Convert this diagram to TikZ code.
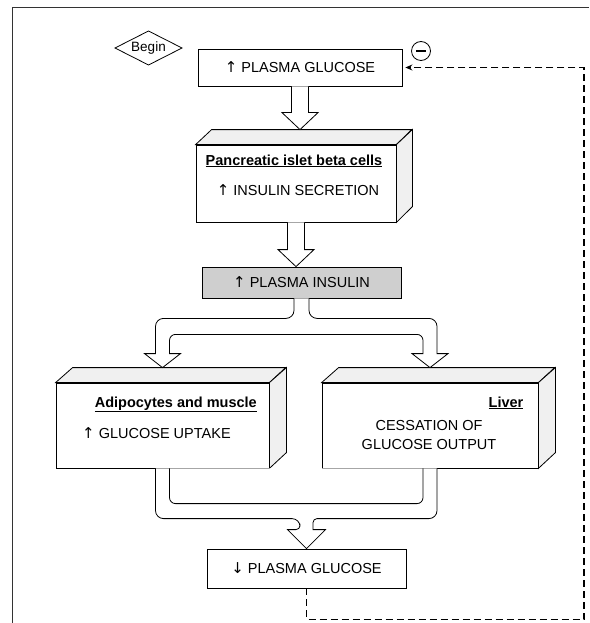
\documentclass[tikz,border=0pt]{standalone}
\usepackage{fontspec}
\setmainfont{Liberation Sans}
\newfontfamily\arrfont{DejaVu Sans}
\usetikzlibrary{arrows.meta,calc}
\newcommand{\upar}{{\arrfont\fontsize{15}{17}\selectfont ↑}}
\newcommand{\dnar}{{\arrfont\fontsize{15}{17}\selectfont ↓}}
\tikzset{
  box/.style={draw, line width=0.8pt, fill=white, inner sep=0pt},
  hollow/.style={draw, line width=0.8pt, fill=white, line join=miter},
  face/.style={draw, line width=0.8pt, fill=gray!12, line join=miter},
  lbl/.style={font=\fontsize{14.5}{17}\selectfont, inner sep=0pt},
  blbl/.style={font=\fontsize{14.5}{17}\selectfont\bfseries, inner sep=0pt},
  fb/.style={line width=1.3pt, dash pattern=on 7pt off 4pt},
  frameline/.style={line width=0.9pt, black!80},
}
\newcommand\hollowdown[2]{%
  \filldraw[hollow] let \p1=(#1), \p2=(#2) in
    (\x2-8.5pt,\y1) -- (\x2-8.5pt,\y2+17pt) -- (\x2-18pt,\y2+17pt) -- (\x2,\y2)
    -- (\x2+18pt,\y2+17pt) -- (\x2+8.5pt,\y2+17pt) -- (\x2+8.5pt,\y1);}
\begin{document}
\begin{tikzpicture}[x=1pt,y=-1pt]
\useasboundingbox (0,0) rectangle (589,623);
% frame
\draw[frameline] (12,623) -- (12,7) -- (589,7);

% Begin
\node[lbl, font=\fontsize{13.5}{15}\selectfont] (begin) at (148.5,48) {Begin};
\draw[line width=0.8pt] (begin.center) ++(-33.5,0) -- ++(33.5,-17) -- ++(33.5,17) -- ++(-33.5,17) -- cycle;

% plasma glucose (top)
\node[box, lbl, minimum width=204, minimum height=37] (pg) at (300,67.5) {\upar\ PLASMA GLUCOSE};
\node[draw, circle, line width=0.8pt, minimum size=19, inner sep=0] (minus) at (421,51) {};
\draw[line width=1.2pt] ($(minus.center)+(-5,0)$) -- ($(minus.center)+(5,0)$);

% pancreatic box
\node[box, minimum width=200, minimum height=77] (panc) at (296,183.5) {};
\filldraw[face] (panc.north west) -- ++(16,-15) -- ++(200,0) -- (panc.north east) -- cycle;
\filldraw[face] (panc.north east) -- ++(16,-15) -- ++(0,77) -- (panc.south east) -- cycle;
\coordinate (panctop) at ($(panc.north)+(0,-15)$);
\node[blbl, anchor=base] (panctitle) at (294,165) {\underline{Pancreatic islet beta cells}};
\node[lbl, anchor=base] (pancsec) at (298,195.5) {\upar\ INSULIN SECRETION};
\hollowdown{pg.south}{pg.south |- panctop}

% plasma insulin
\node[box, fill=gray!38, lbl, minimum width=199, minimum height=31] (pi) at (301.5,282.5) {\upar\ PLASMA INSULIN};
\hollowdown{panc.south}{panc.south |- pi.north}

% adipocytes box
\node[box, minimum width=213, minimum height=85] (adi) at (162.5,425.5) {};
\filldraw[face] (adi.north west) -- ++(17,-15) -- ++(213,0) -- (adi.north east) -- cycle;
\filldraw[face] (adi.north east) -- ++(17,-15) -- ++(0,85) -- (adi.south east) -- cycle;
\coordinate (aditop) at ($(adi.north)+(0,-15)$);
\node[blbl, anchor=base east] (adititle) at (257,407) {\underline{Adipocytes and muscle}};
\node[lbl, anchor=base west] (adiup) at (82,438.5) {\upar\ GLUCOSE UPTAKE};

% liver box
\node[box, minimum width=216, minimum height=85] (liv) at (430,425.5) {};
\filldraw[face] (liv.north west) -- ++(17,-15) -- ++(216,0) -- (liv.north east) -- cycle;
\filldraw[face] (liv.north east) -- ++(17,-15) -- ++(0,85) -- (liv.south east) -- cycle;
\coordinate (livtop) at ($(liv.north)+(0,-15)$);
\node[blbl, anchor=base east] (livtitle) at (523.5,407) {\underline{Liver}};
\node[lbl, anchor=base] (livl1) at (429,430.5) {CESSATION OF};
\node[lbl, anchor=base] (livl2) at (429,449.5) {GLUCOSE OUTPUT};

% split arrow from plasma insulin
\filldraw[hollow] let \p0=(pi.south), \p1=(aditop), \p2=(livtop) in
  (\x0-7.5pt,\y0) [rounded corners=8pt] -- (\x0-7.5pt,\y0-20pt) -- (\x1-7pt,\y0-20pt) [sharp corners]
  -- (\x1-7pt,\y1+14pt) -- (\x1-18pt,\y1+14pt) -- (\x1,\y1) -- (\x1+18pt,\y1+14pt) -- (\x1+7pt,\y1+14pt)
  [rounded corners=6pt] -- (\x1+7pt,\y0-36pt) -- (\x2-7pt,\y0-36pt) [sharp corners]
  -- (\x2-7pt,\y2+14pt) -- (\x2-18pt,\y2+14pt) -- (\x2,\y2) -- (\x2+18pt,\y2+14pt) -- (\x2+7pt,\y2+14pt)
  [rounded corners=8pt] -- (\x2+7pt,\y0-20pt) -- (\x0+7.5pt,\y0-20pt) [sharp corners] -- (\x0+7.5pt,\y0);

% bottom plasma glucose
\node[box, lbl, minimum width=199, minimum height=39] (pgb) at (306.5,568.5) {\dnar\ PLASMA GLUCOSE};

% merge arrow
\filldraw[hollow] let \p1=(adi.south), \p2=(liv.south), \p3=(pgb.north) in
  (\x1-7pt,\y1) [rounded corners=8pt] -- (\x1-7pt,\y3+30pt) -- (\x3-6.5pt,\y3+30pt) [rounded corners=4pt]
  -- (\x3-6.5pt,\y3+19pt) [sharp corners] -- (\x3-19pt,\y3+19pt) -- (\x3,\y3) -- (\x3+19pt,\y3+19pt)
  -- (\x3+6.5pt,\y3+19pt) [rounded corners=4pt] -- (\x3+6.5pt,\y3+30pt) [rounded corners=8pt]
  -- (\x2+7pt,\y3+30pt) [sharp corners] -- (\x2+7pt,\y2);
\draw[hollow, fill=none] let \p1=(adi.south), \p2=(liv.south), \p3=(pgb.north) in
  (\x1+7pt,\y1) [rounded corners=6pt] -- (\x1+7pt,\y3+45pt) -- (\x2-7pt,\y3+45pt) [sharp corners] -- (\x2-7pt,\y2);

% dashed feedback
\coordinate (fbcorner) at (584,67.5);
\draw[fb, -{Stealth[length=7pt,width=6pt]}] (pgb.south) -- ++(0,31) -| (fbcorner) -- ([xshift=3pt]pg.east);
\end{tikzpicture}
\end{document}
